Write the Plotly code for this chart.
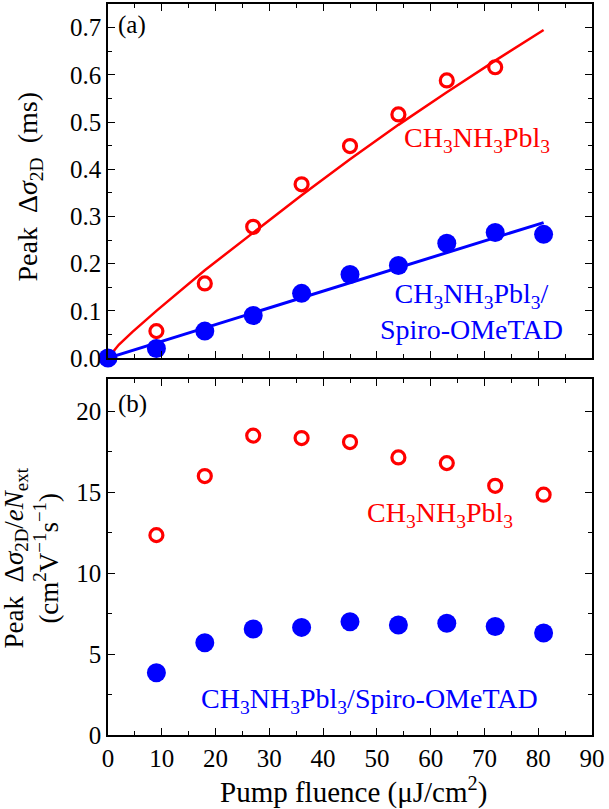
import plotly.graph_objects as go

# ---- data ----
fluence = [0, 9, 18, 27, 36, 45, 54, 63, 72, 81]
fluence_pts = [9, 18, 27, 36, 45, 54, 63, 72, 81]

# panel (a): peak delta sigma (ms)
mapi_sigma = [0.057, 0.158, 0.278, 0.368, 0.449, 0.516, 0.588, 0.616]
mapi_sigma_x = [9, 18, 27, 36, 45, 54, 63, 72]
spiro_sigma = [0.0, 0.020, 0.057, 0.090, 0.137, 0.177, 0.196, 0.243, 0.266, 0.262]

# fitted curves
mapi_fit_x = [0, 2, 4.5, 9, 18, 27, 36, 45, 54, 63, 72, 81]
mapi_fit_y = [0.0, 0.028, 0.055, 0.100, 0.186, 0.266, 0.345, 0.421, 0.494, 0.563, 0.630, 0.695]
spiro_fit_x = [0, 81]
spiro_fit_y = [0.0, 0.287]

# panel (b): peak delta sigma / e N_ext
mapi_mob = [12.35, 16.0, 18.5, 18.35, 18.1, 17.15, 16.8, 15.4, 14.85]
spiro_mob = [3.85, 5.7, 6.55, 6.65, 7.0, 6.8, 6.9, 6.7, 6.3]

RED = "#ff0000"
BLUE = "#0000ff"
FONT = "Liberation Serif"

fig = go.Figure()

# top panel
fig.add_trace(go.Scatter(x=mapi_fit_x, y=mapi_fit_y, mode="lines",
                         line=dict(color=RED, width=2.5), xaxis="x2", yaxis="y2",
                         showlegend=False, hoverinfo="skip", cliponaxis=False))
fig.add_trace(go.Scatter(x=spiro_fit_x, y=spiro_fit_y, mode="lines",
                         line=dict(color=BLUE, width=3), xaxis="x2", yaxis="y2",
                         showlegend=False, hoverinfo="skip", cliponaxis=False))
fig.add_trace(go.Scatter(x=mapi_sigma_x, y=mapi_sigma, mode="markers",
                         marker=dict(symbol="circle-open", size=13, color=RED,
                                     line=dict(width=3.2, color=RED)),
                         xaxis="x2", yaxis="y2", showlegend=False, cliponaxis=False))
fig.add_trace(go.Scatter(x=fluence, y=spiro_sigma, mode="markers",
                         marker=dict(symbol="circle", size=19, color=BLUE),
                         xaxis="x2", yaxis="y2", showlegend=False, cliponaxis=False))

# bottom panel
fig.add_trace(go.Scatter(x=fluence_pts, y=mapi_mob, mode="markers",
                         marker=dict(symbol="circle-open", size=13, color=RED,
                                     line=dict(width=3.2, color=RED)),
                         xaxis="x", yaxis="y", showlegend=False, cliponaxis=False))
fig.add_trace(go.Scatter(x=fluence_pts, y=spiro_mob, mode="markers",
                         marker=dict(symbol="circle", size=19, color=BLUE),
                         xaxis="x", yaxis="y", showlegend=False, cliponaxis=False))

L, R, T, B = 108, 17, 2, 74
W, H = 609, 809
PW = W - L - R
PH = H - T - B

def px_x(p):
    return (p - L) / PW

def px_y(p):
    return (H - B - p) / PH

axis_common = dict(showline=True, linecolor="black", linewidth=1.6, mirror="allticks",
                   ticks="inside", ticklen=7, tickwidth=1.3, tickcolor="black",
                   showgrid=False, zeroline=False,
                   tickfont=dict(family=FONT, size=25, color="black"))

fig.update_layout(
    width=W, height=H,
    margin=dict(l=L, r=R, t=T, b=B),
    paper_bgcolor="white", plot_bgcolor="white",
    font=dict(family=FONT, color="black"),
    xaxis=dict(domain=[0, 1], range=[0, 90], dtick=10, tick0=0, anchor="y",
               minor=dict(ticks="inside", ticklen=4, dtick=5, tickcolor="black", tickwidth=1.2),
               **axis_common),
    yaxis=dict(domain=[0, px_y(378)], range=[0, 22], dtick=5, tick0=0, anchor="x",
               minor=dict(ticks="inside", ticklen=4, dtick=2.5, tickcolor="black", tickwidth=1.2),
               **axis_common),
    xaxis2=dict(domain=[0, 1], range=[0, 90], dtick=10, tick0=0, anchor="y2",
                showticklabels=False,
                minor=dict(ticks="inside", ticklen=4, dtick=5, tickcolor="black", tickwidth=1.2),
                **axis_common),
    yaxis2=dict(domain=[px_y(357), 1], range=[0, 0.75], dtick=0.1, tick0=0, anchor="x2",
                tickformat=".1f",
                minor=dict(ticks="inside", ticklen=4, dtick=0.05, tickcolor="black", tickwidth=1.2),
                **axis_common),
)

ann = []
# axis titles
ann.append(dict(text="Pump fluence (μJ/cm<sup>2</sup>)", xref="paper", yref="paper",
                x=px_x(353), y=px_y(791), xanchor="center", yanchor="middle",
                showarrow=False, font=dict(family=FONT, size=29, color="black")))
ann.append(dict(text="Peak  Δ<i>σ</i><sub>2D</sub>  (ms)", xref="paper", yref="paper",
                x=px_x(30), y=px_y(185), xanchor="center", yanchor="middle", textangle=-90,
                showarrow=False, font=dict(family=FONT, size=28, color="black")))
ann.append(dict(text="Peak  Δ<i>σ</i><sub>2D</sub>/<i>eN</i><sub>ext</sub><br>(cm<sup>2</sup>V<sup>−1</sup>s<sup>−1</sup>)",
                xref="paper", yref="paper",
                x=px_x(31), y=px_y(558), xanchor="center", yanchor="middle", textangle=-90,
                showarrow=False, font=dict(family=FONT, size=27, color="black")))
# panel labels
ann.append(dict(text="(a)", xref="paper", yref="paper", x=px_x(116), y=px_y(23),
                xanchor="left", yanchor="middle", showarrow=False,
                font=dict(family=FONT, size=25, color="black")))
ann.append(dict(text="(b)", xref="paper", yref="paper", x=px_x(116), y=px_y(403),
                xanchor="left", yanchor="middle", showarrow=False,
                font=dict(family=FONT, size=25, color="black")))
# series labels
ann.append(dict(text="CH<sub>3</sub>NH<sub>3</sub>Pbl<sub>3</sub>", xref="paper", yref="paper",
                x=px_x(477), y=px_y(138), xanchor="center", yanchor="middle", showarrow=False,
                font=dict(family=FONT, size=28, color=RED)))
ann.append(dict(text="CH<sub>3</sub>NH<sub>3</sub>Pbl<sub>3</sub>/<br>Spiro-OMeTAD", xref="paper", yref="paper",
                x=px_x(471), y=px_y(310), xanchor="center", yanchor="middle", showarrow=False,
                font=dict(family=FONT, size=28, color=BLUE)))
ann.append(dict(text="CH<sub>3</sub>NH<sub>3</sub>Pbl<sub>3</sub>", xref="paper", yref="paper",
                x=px_x(440), y=px_y(514), xanchor="center", yanchor="middle", showarrow=False,
                font=dict(family=FONT, size=28, color=RED)))
ann.append(dict(text="CH<sub>3</sub>NH<sub>3</sub>Pbl<sub>3</sub>/Spiro-OMeTAD", xref="paper", yref="paper",
                x=px_x(369), y=px_y(700), xanchor="center", yanchor="middle", showarrow=False,
                font=dict(family=FONT, size=28, color=BLUE)))

fig.update_layout(annotations=ann)
fig.write_html("out.html", config={"displayModeBar": False},
               post_script="document.body.style.margin='0';document.body.style.padding='0';document.body.style.overflow='hidden';")
